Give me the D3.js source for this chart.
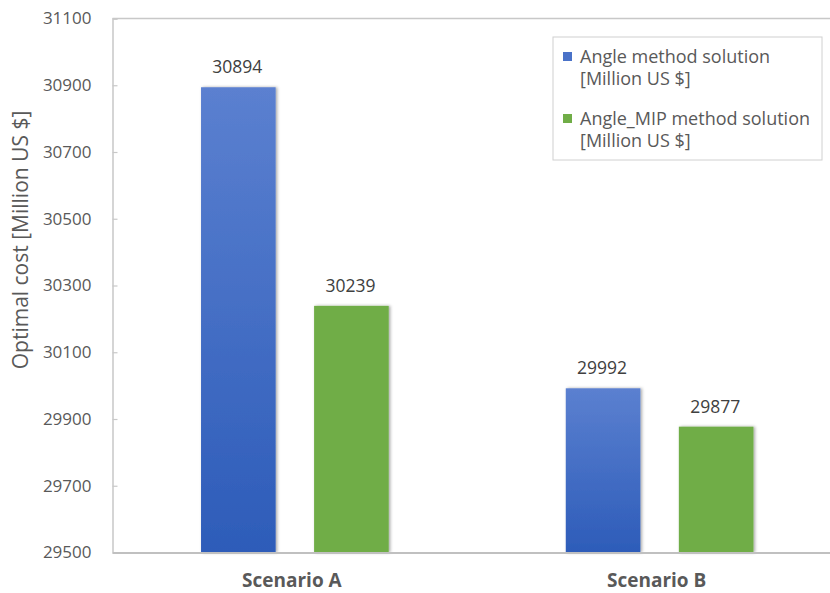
<!DOCTYPE html>
<html>
<head>
<meta charset="utf-8">
<script src="https://cdn.jsdelivr.net/npm/d3@7/dist/d3.min.js"></script>
<style>
  html, body { margin: 0; padding: 0; background: #fff; }
  svg { display: block; font-family: "Open Sans", "Noto Sans", sans-serif; }
</style>
</head>
<body>
<svg id="chart" width="830" height="593"></svg>
<script>
// Optimal cost per scenario for the two solution methods
const categories = ["Scenario A", "Scenario B"];
const seriesNames = ["Angle method solution", "Angle_MIP method solution"];
const angleValues = [30894, 29992];
const angleMipValues = [30239, 29877];
const yTicks = [29500, 29700, 29900, 30100, 30300, 30500, 30700, 30900, 31100];
const yTitle = "Optimal cost [Million US $]";
const legendUnit = "[Million US $]";

const svg = d3.select("#chart");
const W = 830, H = 593;
const plotLeft = 112.5, plotTop = 18.5, plotBottom = 552.5;

const y = d3.scaleLinear().domain([29500, 31100]).range([plotBottom, plotTop]);
const x = d3.scaleBand().domain(categories).range([plotLeft, 842]).padding(0);
const inner = d3.scaleBand().domain([0, 1]).range([-112.5, 112.5]).paddingInner(0.34).paddingOuter(0.165);

const defs = svg.append("defs");
const grad = defs.append("linearGradient").attr("id", "blueGrad")
  .attr("x1", 0).attr("y1", 0).attr("x2", 0).attr("y2", 1);
grad.append("stop").attr("offset", "0%").attr("stop-color", "#5b80d0");
grad.append("stop").attr("offset", "100%").attr("stop-color", "#2d5cb9");
const sh = defs.append("filter").attr("id", "shadow")
  .attr("x", "-20%").attr("y", "-5%").attr("width", "140%").attr("height", "110%");
sh.append("feDropShadow").attr("dx", 1.5).attr("dy", 0).attr("stdDeviation", 1.5)
  .attr("flood-color", "#000").attr("flood-opacity", 0.35);

// Frame: top border line
svg.append("line").attr("x1", plotLeft).attr("x2", W).attr("y1", plotTop).attr("y2", plotTop)
  .attr("stroke", "#c8c8c8").attr("stroke-width", 1.5);

const rows = categories.map((c, i) => ({ cat: c, vals: [angleValues[i], angleMipValues[i]] }));
const fills = ["url(#blueGrad)", "#70ad47"];

const groups = svg.append("g").selectAll("g").data(rows).join("g")
  .attr("transform", d => `translate(${x(d.cat) + x.bandwidth() / 2},0)`);

groups.selectAll("rect").data(d => d.vals.map((v, k) => ({ v, k }))).join("rect")
  .attr("x", d => inner(d.k))
  .attr("width", inner.bandwidth())
  .attr("y", d => y(d.v))
  .attr("height", d => plotBottom - y(d.v))
  .attr("fill", d => fills[d.k])
  .attr("filter", "url(#shadow)");

groups.selectAll("text").data(d => d.vals.map((v, k) => ({ v, k }))).join("text")
  .attr("x", d => inner(d.k) + inner.bandwidth() / 2 - 1)
  .attr("y", d => y(d.v) - 14)
  .attr("text-anchor", "middle")
  .attr("font-size", 17.5)
  .attr("fill", "#404040")
  .text(d => d.v);

// Y axis
const yAxis = d3.axisLeft(y).tickValues(yTicks).tickSize(-5).tickPadding(21).tickFormat(d3.format("d"));
const ga = svg.append("g").attr("transform", `translate(${plotLeft},0)`).call(yAxis);
ga.select(".domain").attr("stroke", "#c8c8c8").attr("stroke-width", 1.5);
ga.selectAll(".tick line").attr("stroke", "#c8c8c8").attr("stroke-width", 1.2);
ga.selectAll(".tick text").attr("font-size", 17).attr("fill", "#595959")
  .attr("font-family", "'Open Sans', sans-serif");

// X axis
const xAxis = d3.axisBottom(x).tickSize(0).tickPadding(21);
const gx = svg.append("g").attr("transform", `translate(0,${plotBottom})`).call(xAxis);
gx.select(".domain").attr("stroke", "#c0c0c0").attr("stroke-width", 2);
gx.selectAll(".tick text").attr("font-size", 19).attr("font-weight", "bold").attr("fill", "#595959")
  .attr("font-family", "'Open Sans', sans-serif")
  .attr("dx", -3);

// Y axis title
svg.append("text")
  .attr("transform", "translate(28,240) rotate(-90)")
  .attr("text-anchor", "middle")
  .attr("font-size", 21)
  .attr("fill", "#595959")
  .text(yTitle);

// Legend
const lg = svg.append("g").attr("transform", "translate(553,37)");
lg.append("rect").attr("width", 269).attr("height", 123)
  .attr("fill", "#fff").attr("stroke", "#d0d0d0").attr("stroke-width", 1);
const swatch = ["#4a72c8", "#70ad47"];
seriesNames.forEach((name, i) => {
  const gy = 15 + i * 62;
  lg.append("rect").attr("x", 10).attr("y", gy).attr("width", 9).attr("height", 9).attr("fill", swatch[i]);
  const t = lg.append("text").attr("x", 27).attr("y", gy + 11).attr("font-size", 18)
    .attr("fill", "#595959");
  t.append("tspan").attr("x", 27).text(name);
  t.append("tspan").attr("x", 27).attr("dy", 22).text(legendUnit);
});
</script>
</body>
</html>
